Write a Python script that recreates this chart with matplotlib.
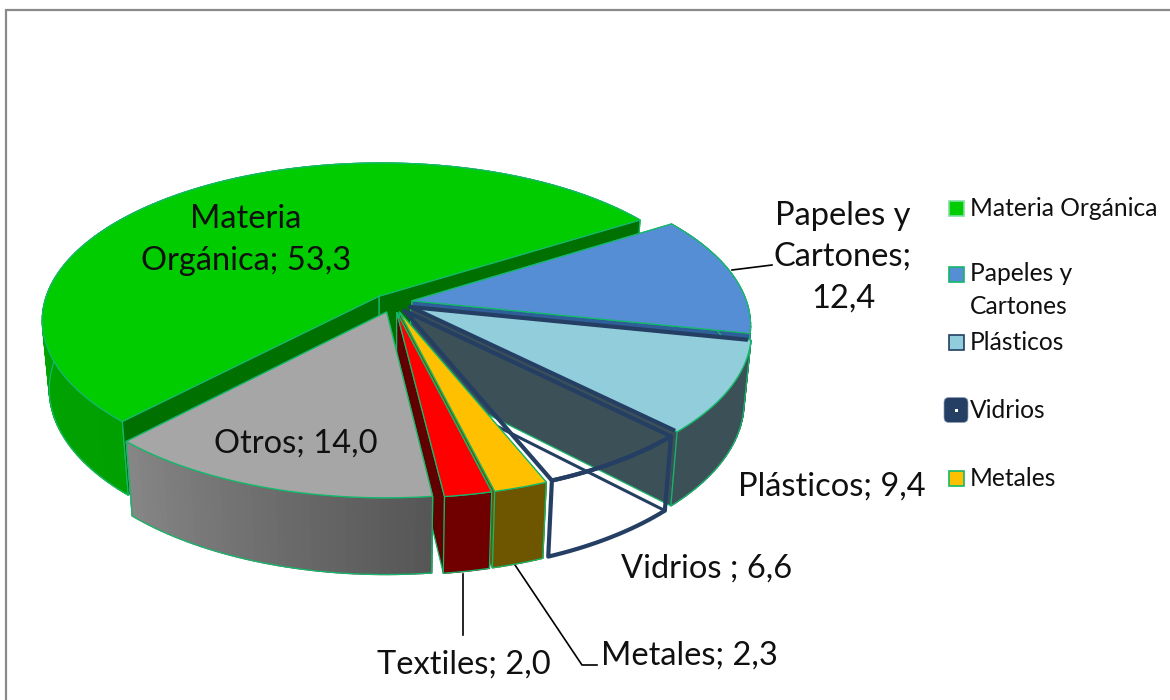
import numpy as np
import matplotlib
matplotlib.use("Agg")
import matplotlib.pyplot as plt
from matplotlib.colors import to_rgb
from matplotlib.patches import Polygon, Rectangle, FancyBboxPatch

categories = ["Materia Orgánica", "Papeles y Cartones", "Plásticos", "Vidrios", "Metales", "Textiles", "Otros"]
values = [53.3, 12.4, 9.4, 6.6, 2.3, 2.0, 14.0]
top_colors = ["#00CC00", "#558ED5", "#92CDDC", "none", "#FFC000", "#FF0000", "#A6A6A6"]
side_start = ["#00B000", "#2F5F98", "#3C5058", "none", "#6E5500", "#700000", "#868686"]
side_end = ["#00A000", "#2F5F98", "#3C5058", "none", "#6E5500", "#700000", "#565656"]
wall_colors = ["#007000", "#2F5F98", "#3C5058", "none", "#6E5500", "#600000", "#565656"]
legend_labels = ["Materia Orgánica", "Papeles y\nCartones", "Plásticos", "Vidrios", "Metales"]

plt.rcParams["font.family"] = ["Lato", "DejaVu Sans"]
EDGE = "#14B86A"
NAVY = "#243F63"
CX, CY, R, S, K, M, D, EXPL = 392.5, 303.0, 335.0, 155.0, 0.15, 0.02, 70.0, 0.06
START = 227.9
# apparent rotation (degrees) from the 3D view, varying around the pie
VIEW_T = [-132.1, -81.7, -66.2, -42.5, 36.0, 227.9]
VIEW_D = [1.0, 1.5, 2.0, 3.0, 3.5, 1.0]

fig = plt.figure(figsize=(11.7, 7.0), dpi=100, facecolor="white")
ax = fig.add_axes([0, 0, 1, 1])
ax.set_xlim(0, 1170)
ax.set_ylim(700, 0)
ax.axis("off")

ax.plot([5.5, 5.5, 1170], [700, 10, 10], color="#8A8A8A", lw=1.6, solid_joinstyle="miter")


def view_angle(t_deg):
    t = np.mod(np.asarray(t_deg, dtype=float) + 132.1, 360.0) - 132.1
    return t - np.interp(t, VIEW_T, VIEW_D)


def project(t_deg, bis_deg, radius=1.0, bottom=False):
    t = np.radians(view_angle(t_deg))
    b = np.radians(bis_deg)
    u = radius * np.cos(t) + EXPL * np.cos(b)
    v = -radius * np.sin(t) - EXPL * np.sin(b)
    w = 1 - K * v
    if bottom:
        w = w + M
        return np.column_stack([CX + R * u / w, CY + (S * v + D) / w])
    return np.column_stack([CX + R * u / w, CY + S * v / w])


fracs = np.array(values) / sum(values) * 360
ends = START - np.cumsum(fracs)
starts = ends + fracs

# painter's order, back to front
wall_z = {0: 2.02, 1: 2.20, 2: 2.40, 4: 3.0, 5: 3.1, 6: 3.19}
body_z = {0: 2.01, 1: 2.21, 2: 2.41, 4: 3.6, 5: 3.5, 6: 3.2}
top_z = {0: 2.03, 1: 2.23, 2: 2.43, 4: 3.62, 5: 3.52, 6: 3.22}


def draw_slice(i):
    a0, a1 = starts[i], ends[i]
    bis = (a0 + a1) / 2
    ts = np.linspace(a0, a1, max(int(abs(a0 - a1) * 0.8), 8))
    top = project(ts, bis)
    bot = project(ts, bis, bottom=True)
    apex = project(np.array([a0]), bis, radius=0.0)
    apex_b = project(np.array([a0]), bis, radius=0.0, bottom=True)
    if i == 3:  # Vidrios: unfilled faces with a heavy outline
        kw = dict(fill=False, ec=NAVY, lw=3.0, joinstyle="round", zorder=2.6)
        ax.add_patch(Polygon(np.vstack([apex, top]), **kw))
        ax.add_patch(Polygon(np.vstack([top, bot[::-1]]), **kw))
        ax.plot([bot[0, 0], apex_b[0, 0]], [bot[0, 1], apex_b[0, 1]], color=NAVY, lw=2.2, zorder=2.59)
        return
    wz, z, tz = wall_z[i], body_z[i], top_z[i]
    c0 = np.array(to_rgb(side_start[i]))
    c1 = np.array(to_rgb(side_end[i]))
    for j in range(len(ts) - 1):
        f = j / max(len(ts) - 2, 1)
        col = c1 * (1 - f) + c0 * f
        quad = np.vstack([top[j], top[j + 1], bot[j + 1], bot[j]])
        ax.add_patch(Polygon(quad, fc=col, ec=col, lw=1.0, zorder=z))
    ax.add_patch(Polygon(np.vstack([top, bot[::-1]]), fill=False, ec=EDGE, lw=0.9, zorder=z + 0.001))
    w1 = np.vstack([apex, top[:1], bot[:1], apex_b])
    w2 = np.vstack([apex, top[-1:], bot[-1:], apex_b])
    ax.add_patch(Polygon(w1, fc=wall_colors[i], ec=EDGE, lw=0.9, zorder=wz))
    ax.add_patch(Polygon(w2, fc=wall_colors[i], ec=EDGE, lw=0.9, zorder=wz))
    ax.add_patch(Polygon(np.vstack([apex, top]), fc=top_colors[i], ec=EDGE, lw=0.9, zorder=tz))
    if i == 2:
        for p in (top[0], top[-1]):
            q = apex[0] + 0.985 * (p - apex[0])
            ax.plot([apex[0, 0], q[0]], [apex[0, 1], q[1]], color=NAVY, lw=3, zorder=tz + 0.001)


for i in range(len(values)):
    draw_slice(i)

# leader lines
for xs, ys in [([732, 772], [270, 265]), ([463, 463], [574, 635]), ([515, 582, 597], [565, 665, 665])]:
    ax.plot(xs, ys, color="black", lw=1.2, zorder=1.5)

LBL = 23.5
labels = [("Materia\nOrgánica; 53,3", 246, 240), ("Papeles y\nCartones;\n12,4", 843, 257),
          ("Plásticos; 9,4", 832, 487), ("Vidrios ; 6,6", 707, 569), ("Metales; 2,3", 689, 656),
          ("Textiles; 2,0", 464, 665), ("Otros; 14,0", 296, 444)]
for s, x, y in labels:
    ax.text(x, y, s, ha="center", va="center", fontsize=LBL, linespacing=1.46, color="#101010", zorder=10)

LEG = 17.7
leg_y = [208, 290, 342, 410, 478]
leg_edge = ["#7FE0A0", EDGE, NAVY, None, EDGE]
leg_fill = [top_colors[0], top_colors[1], top_colors[2], None, top_colors[4]]
for k, (lab, y) in enumerate(zip(legend_labels, leg_y)):
    if lab == "Vidrios":
        ax.add_patch(FancyBboxPatch((946, y - 10.5), 20, 21, boxstyle="round,pad=2,rounding_size=5", fc=NAVY, ec="#8FA0B8", lw=0.5, zorder=10))
        ax.add_patch(Rectangle((954.5, y - 1.5), 3, 3, fc="white", ec="none", zorder=11))
        ax.text(970, y, lab, ha="left", va="center", fontsize=LEG, color="#101010", zorder=12)
    else:
        sy = y if "\n" not in lab else y - 16
        ax.add_patch(Rectangle((948.5, sy - 7.5), 15, 15, fc=leg_fill[k], ec=leg_edge[k], lw=1.2, zorder=10))
        ax.text(970, y, lab, ha="left", va="center", fontsize=LEG, linespacing=1.5, color="#101010")

fig.savefig("out.png", dpi=100, facecolor="white")
